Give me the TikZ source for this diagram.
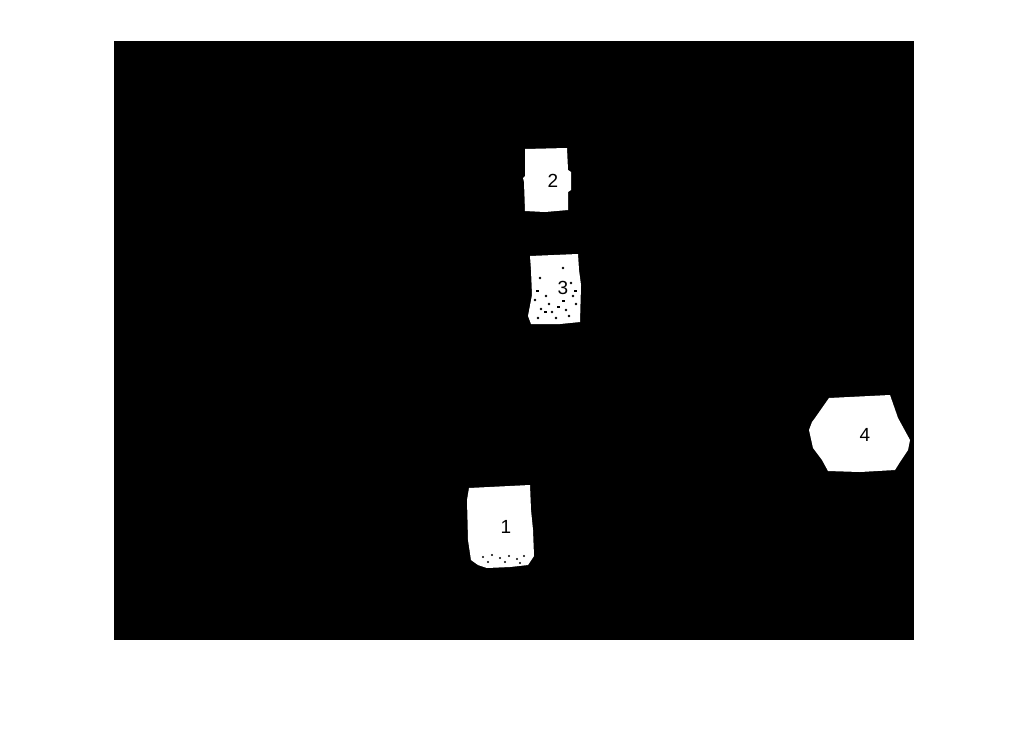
\documentclass[tikz,border=0pt]{standalone}
\usepackage{fontspec}
\setmainfont{Liberation Sans}
\begin{document}
\begin{tikzpicture}[x=1pt,y=-1pt,
  blob/.style={fill=white,draw=none},
  speck/.style={fill=black,draw=none},
  lbl/.style={font=\fontsize{19}{19}\selectfont,text=black,inner sep=0pt}]
\useasboundingbox (0,0) rectangle (1030,742);
\fill[white] (0,0) rectangle (1030,742);
\fill[black] (114,41) rectangle (914,640);
% blob 2
\fill[blob] (525,149) -- (567,148) -- (568,170) -- (571,172) -- (571,190) -- (568,192) -- (568,210) -- (545,212) -- (525,211) -- (524,182) -- (523,178) -- (525,176) -- cycle;
% blob 3
\fill[blob] (530,256) -- (578,254) -- (579,270) -- (581,285) -- (580,322) -- (560,324) -- (531,324) -- (528,316) -- (532,295) -- (531,270) -- cycle;
\foreach \p in {(535,300),(541,309),(549,304),(566,310),(573,296),(556,318),(538,318),(546,296),(571,283),(576,304),(552,312),(563,268),(540,278),(569,316)}
  \fill[speck] \p circle (1.3);
\foreach \p in {(544,311),(562,300),(574,290),(536,290),(557,306)}
  \fill[speck] \p rectangle ++(3,1.5);
% blob 4
\fill[blob] (829,398) -- (890,395) -- (898,418) -- (910,440) -- (908,450) -- (900,462) -- (895,470) -- (860,472) -- (828,471) -- (822,460) -- (813,448) -- (809,430) -- (812,422) -- (815,418) -- cycle;
% blob 1
\fill[blob] (469,488) -- (530,485) -- (531,510) -- (533,530) -- (534,556) -- (528,565) -- (510,567) -- (487,568) -- (478,565) -- (471,560) -- (468,540) -- (467,500) -- cycle;
\foreach \p in {(483,557),(492,555),(500,558),(509,556),(517,559),(524,556),(488,562),(505,562),(520,563)}
  \fill[speck] \p circle (1.2);
% labels
\node[lbl] (n2) at (553,181) {2};
\node[lbl] (n3) at (563,288) {3};
\node[lbl] (n4) at (865,435) {4};
\node[lbl] (n1) at (506,527) {1};
\end{tikzpicture}
\end{document}
